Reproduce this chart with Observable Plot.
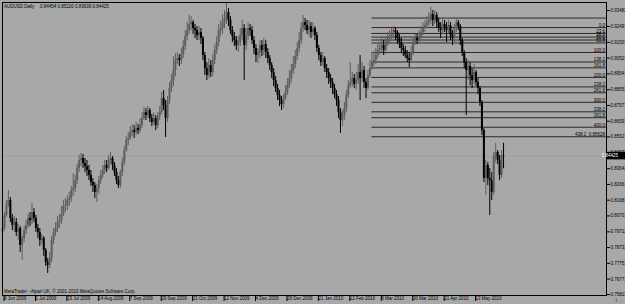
<!DOCTYPE html>
<html><head><meta charset="utf-8">
<script src="https://cdn.jsdelivr.net/npm/d3@7"></script>
<script src="https://cdn.jsdelivr.net/npm/@observablehq/plot@0.6"></script>
<style>
html,body{margin:0;padding:0;background:#a8a8a8;}
#chart{width:625px;height:304px;overflow:hidden;}
</style></head><body><div id="chart"></div>
<script>
const symbolTitle = "AUDUSD,Daily";
const lastQuote = "0.84454 0.85220 0.83639 0.84425";
const copyright = "MetaTrader - Alpari UK, © 2001-2010 MetaQuotes Software Corp.";
const bidPrice = 0.84425;
const bidLabel = "0.84425";

const open = [
0.7967,0.7992,0.8073,0.8135,0.8166,0.8054,0.8011,0.8029,0.7967,0.7992,
0.7886,0.7930,0.7979,0.8011,0.8054,0.8042,0.8091,0.8054,0.7992,0.7967,
0.7917,0.7930,0.7855,0.7780,0.7762,0.7805,0.7917,0.7967,0.7992,0.8029,
0.8042,0.8079,0.8129,0.8135,0.8166,0.8178,0.8228,0.8241,0.8290,0.8365,
0.8415,0.8427,0.8396,0.8377,0.8353,0.8322,0.8278,0.8259,0.8216,0.8241,
0.8290,0.8322,0.8353,0.8384,0.8365,0.8415,0.8427,0.8384,0.8340,0.8290,
0.8259,0.8340,0.8402,0.8477,0.8539,0.8552,0.8589,0.8601,0.8589,0.8614,
0.8601,0.8632,0.8676,0.8713,0.8695,0.8726,0.8676,0.8651,0.8676,0.8632,
0.8688,0.8713,0.8800,0.8757,0.8676,0.8788,0.8863,0.8912,0.8975,0.9037,
0.9049,0.9037,0.9074,0.9124,0.9186,0.9223,0.9261,0.9273,0.9236,0.9223,
0.9192,0.9211,0.9174,0.9068,0.8987,0.8944,0.9006,0.8962,0.9037,0.9099,
0.9149,0.9223,0.9236,0.9273,0.9298,0.9335,0.9286,0.9223,0.9186,0.9161,
0.9130,0.9149,0.9192,0.9236,0.9130,0.9192,0.9236,0.9223,0.9161,0.9111,
0.9068,0.9087,0.9130,0.9099,0.9136,0.9087,0.9049,0.9006,0.8962,0.8912,
0.8863,0.8819,0.8788,0.8763,0.8800,0.8838,0.8881,0.8925,0.8975,0.9012,
0.9062,0.9111,0.9161,0.9236,0.9273,0.9255,0.9223,0.9248,0.9211,0.9236,
0.9192,0.9111,0.9068,0.9024,0.9049,0.8987,0.8962,0.8925,0.8900,0.8863,
0.8825,0.8788,0.8713,0.8664,0.8695,0.8738,0.8819,0.8881,0.8900,0.8925,
0.8888,0.8912,0.8962,0.8925,0.8975,0.8900,0.8863,0.8944,0.8987,0.9024,
0.9037,0.9068,0.9099,0.9111,0.9130,0.9099,0.9149,0.9174,0.9186,0.9199,
0.9223,0.9211,0.9174,0.9149,0.9111,0.9099,0.9068,0.9049,0.9037,0.9087,
0.9149,0.9174,0.9161,0.9186,0.9211,0.9236,0.9255,0.9273,0.9286,0.9323,
0.9286,0.9317,0.9273,0.9236,0.9223,0.9261,0.9236,0.9223,0.9255,0.9192,
0.9174,0.9236,0.9273,0.9248,0.9161,0.9087,0.9024,0.8975,0.9000,0.8944,
0.8912,0.8962,0.8900,0.8863,0.8776,0.8601,0.8303,0.8384,0.8303,0.8290,
0.8216,0.8440,0.8465,0.8415,0.8322,0.84454];

const high = [
0.8029,0.8091,0.8166,0.8228,0.8185,0.8079,0.8066,0.8054,0.8017,0.8004,
0.7942,0.8004,0.8042,0.8079,0.8091,0.8147,0.8116,0.8073,0.8017,0.7992,
0.7955,0.7942,0.7867,0.7805,0.7843,0.7942,0.7992,0.8029,0.8066,0.8079,
0.8129,0.8166,0.8178,0.8197,0.8216,0.8253,0.8334,0.8322,0.8390,0.8446,
0.8458,0.8452,0.8427,0.8415,0.8384,0.8353,0.8303,0.8278,0.8266,0.8315,
0.8353,0.8384,0.8415,0.8415,0.8446,0.8465,0.8440,0.8402,0.8365,0.8315,
0.8353,0.8427,0.8502,0.8564,0.8589,0.8626,0.8639,0.8632,0.8651,0.8639,
0.8676,0.8713,0.8744,0.8738,0.8751,0.8738,0.8701,0.8713,0.8695,0.8713,
0.8751,0.8838,0.8850,0.8788,0.8813,0.8900,0.8950,0.9062,0.9080,0.9087,
0.9074,0.9111,0.9161,0.9223,0.9273,0.9317,0.9310,0.9286,0.9261,0.9248,
0.9248,0.9236,0.9186,0.9087,0.9024,0.9049,0.9037,0.9074,0.9130,0.9186,
0.9261,0.9286,0.9323,0.9348,0.9391,0.9360,0.9310,0.9248,0.9211,0.9186,
0.9186,0.9236,0.9286,0.9261,0.9236,0.9273,0.9261,0.9248,0.9186,0.9136,
0.9111,0.9161,0.9161,0.9174,0.9161,0.9111,0.9068,0.9024,0.8987,0.8937,
0.8888,0.8850,0.8813,0.8825,0.8881,0.8925,0.8975,0.9012,0.9062,0.9099,
0.9149,0.9211,0.9273,0.9317,0.9298,0.9286,0.9286,0.9273,0.9273,0.9248,
0.9211,0.9130,0.9087,0.9087,0.9062,0.9012,0.8987,0.8950,0.8925,0.8888,
0.8850,0.8813,0.8738,0.8726,0.8776,0.8850,0.8912,0.9024,0.8962,0.8950,
0.8962,0.9012,0.9068,0.9024,0.9000,0.8925,0.8975,0.9037,0.9087,0.9087,
0.9111,0.9136,0.9149,0.9174,0.9161,0.9186,0.9211,0.9223,0.9236,0.9248,
0.9242,0.9223,0.9199,0.9174,0.9136,0.9124,0.9099,0.9087,0.9124,0.9174,
0.9199,0.9199,0.9223,0.9248,0.9273,0.9286,0.9310,0.9335,0.9366,0.9348,
0.9348,0.9335,0.9298,0.9273,0.9298,0.9286,0.9273,0.9286,0.9273,0.9223,
0.9261,0.9298,0.9286,0.9261,0.9174,0.9099,0.9049,0.9037,0.9024,0.8987,
0.9012,0.8975,0.8925,0.8875,0.8788,0.8614,0.8415,0.8402,0.8365,0.8340,
0.8465,0.8521,0.8477,0.8446,0.8477,0.85220];

const low = [
0.7955,0.7979,0.8060,0.8122,0.8029,0.7979,0.7967,0.7942,0.7917,0.7843,
0.7793,0.7905,0.7955,0.7992,0.8004,0.8017,0.8029,0.7967,0.7930,0.7880,
0.7892,0.7818,0.7756,0.7712,0.7743,0.7780,0.7892,0.7942,0.7967,0.7992,
0.8017,0.8066,0.8091,0.8104,0.8129,0.8154,0.8191,0.8216,0.8266,0.8340,
0.8377,0.8365,0.8340,0.8315,0.8290,0.8253,0.8216,0.8178,0.8154,0.8203,
0.8266,0.8303,0.8328,0.8340,0.8353,0.8390,0.8353,0.8315,0.8266,0.8241,
0.8241,0.8315,0.8384,0.8465,0.8508,0.8539,0.8564,0.8552,0.8570,0.8577,
0.8583,0.8614,0.8664,0.8664,0.8676,0.8651,0.8626,0.8632,0.8601,0.8614,
0.8664,0.8701,0.8726,0.8558,0.8651,0.8763,0.8838,0.8875,0.8937,0.9012,
0.9000,0.9012,0.9049,0.9099,0.9161,0.9199,0.9223,0.9199,0.9174,0.9161,
0.9161,0.9136,0.9037,0.8944,0.8912,0.8925,0.8931,0.8937,0.9012,0.9074,
0.9124,0.9186,0.9199,0.9236,0.9261,0.9248,0.9199,0.9149,0.9124,0.9099,
0.9087,0.9124,0.9161,0.8912,0.9099,0.9161,0.9186,0.9136,0.9074,0.9024,
0.9018,0.9049,0.9062,0.9068,0.9049,0.9018,0.8975,0.8925,0.8875,0.8838,
0.8788,0.8751,0.8726,0.8738,0.8788,0.8819,0.8863,0.8900,0.8950,0.8987,
0.9037,0.9087,0.9136,0.9211,0.9223,0.9199,0.9186,0.9174,0.9186,0.9161,
0.9087,0.9037,0.9000,0.9000,0.8962,0.8925,0.8888,0.8863,0.8825,0.8800,
0.8751,0.8676,0.8583,0.8626,0.8664,0.8713,0.8800,0.8863,0.8875,0.8863,
0.8850,0.8888,0.8788,0.8900,0.8863,0.8800,0.8850,0.8925,0.8975,0.9000,
0.9012,0.9049,0.9074,0.9087,0.9068,0.9074,0.9124,0.9149,0.9161,0.9174,
0.9161,0.9136,0.9111,0.9080,0.9062,0.9049,0.9024,0.8993,0.9024,0.9068,
0.9130,0.9136,0.9149,0.9161,0.9192,0.9211,0.9236,0.9248,0.9261,0.9248,
0.9261,0.9236,0.9211,0.9174,0.9199,0.9211,0.9149,0.9199,0.9161,0.9130,
0.9149,0.9211,0.9223,0.9130,0.9062,0.8987,0.8695,0.8912,0.8881,0.8863,
0.8888,0.8875,0.8825,0.8751,0.8570,0.8278,0.8197,0.8259,0.8073,0.8166,
0.8197,0.8402,0.8390,0.8290,0.8303,0.83639];

const close = [
0.7992,0.8073,0.8135,0.8166,0.8054,0.8011,0.8029,0.7967,0.7992,0.7886,
0.7930,0.7979,0.8011,0.8054,0.8042,0.8091,0.8054,0.7992,0.7967,0.7917,
0.7930,0.7855,0.7780,0.7762,0.7805,0.7917,0.7967,0.7992,0.8029,0.8042,
0.8079,0.8129,0.8135,0.8166,0.8178,0.8228,0.8241,0.8290,0.8365,0.8415,
0.8427,0.8396,0.8377,0.8353,0.8322,0.8278,0.8259,0.8216,0.8241,0.8290,
0.8322,0.8353,0.8384,0.8365,0.8415,0.8427,0.8384,0.8340,0.8290,0.8259,
0.8340,0.8402,0.8477,0.8539,0.8552,0.8589,0.8601,0.8589,0.8614,0.8601,
0.8632,0.8676,0.8713,0.8695,0.8726,0.8676,0.8651,0.8676,0.8632,0.8688,
0.8713,0.8800,0.8757,0.8676,0.8788,0.8863,0.8912,0.8975,0.9037,0.9049,
0.9037,0.9074,0.9124,0.9186,0.9223,0.9261,0.9273,0.9236,0.9223,0.9192,
0.9211,0.9174,0.9068,0.8987,0.8944,0.9006,0.8962,0.9037,0.9099,0.9149,
0.9223,0.9236,0.9273,0.9298,0.9335,0.9286,0.9223,0.9186,0.9161,0.9130,
0.9149,0.9192,0.9236,0.9130,0.9192,0.9236,0.9223,0.9161,0.9111,0.9068,
0.9087,0.9130,0.9099,0.9136,0.9087,0.9049,0.9006,0.8962,0.8912,0.8863,
0.8819,0.8788,0.8763,0.8800,0.8838,0.8881,0.8925,0.8975,0.9012,0.9062,
0.9111,0.9161,0.9236,0.9273,0.9255,0.9223,0.9248,0.9211,0.9236,0.9192,
0.9111,0.9068,0.9024,0.9049,0.8987,0.8962,0.8925,0.8900,0.8863,0.8825,
0.8788,0.8713,0.8664,0.8695,0.8738,0.8819,0.8881,0.8900,0.8925,0.8888,
0.8912,0.8962,0.8925,0.8975,0.8900,0.8863,0.8944,0.8987,0.9024,0.9037,
0.9068,0.9099,0.9111,0.9130,0.9099,0.9149,0.9174,0.9186,0.9199,0.9223,
0.9211,0.9174,0.9149,0.9111,0.9099,0.9068,0.9049,0.9037,0.9087,0.9149,
0.9174,0.9161,0.9186,0.9211,0.9236,0.9255,0.9273,0.9286,0.9323,0.9286,
0.9317,0.9273,0.9236,0.9223,0.9261,0.9236,0.9223,0.9255,0.9192,0.9174,
0.9236,0.9273,0.9248,0.9161,0.9087,0.9024,0.8975,0.9000,0.8944,0.8912,
0.8962,0.8900,0.8863,0.8776,0.8601,0.8303,0.8384,0.8303,0.8290,0.8216,
0.8440,0.8465,0.8415,0.8322,0.8446,0.84425];

const dateTickBars = [0,16,32,48,64,80,96,112,128,144,160,176,192,208,224,240];
const dateTickLabels = ["9 Jun 2009","1 Jul 2009","23 Jul 2009","14 Aug 2009","7 Sep 2009","29 Sep 2009","21 Oct 2009","12 Nov 2009","4 Dec 2009","29 Dec 2009","21 Jan 2010","12 Feb 2010","8 Mar 2010","30 Mar 2010","21 Apr 2010","13 May 2010"];
const priceTickLabels = ["0.93482","0.92491","0.91501","0.90521","0.89541","0.88551","0.87571","0.86591","0.85621","0.84631","0.83642","0.82661","0.81681","0.80701","0.79711","0.78731","0.77751","0.76771","0.75811"];

const fibAnchorBars = [188, 200];
const fibAnchorPrices = [0.9087, 0.9242];
const fibLevels = [-38.2, 0, 23.6, 38.2, 50, 61.8, 100, 138.2, 161.8, 200, 238.2, 261.8, 300, 338.2, 361.8, 400, 438.2];
const fibLabels = ["", "0.0", "23.6", "38.2", "50.0", "61.8", "100.0", "138.2", "161.8", "200.0", "238.2", "261.8", "300.0", "338.2", "361.8", "400.0", "438.2  0.85628"];

const bars = close.map((c, i) => ({i, o: open[i], h: high[i], l: low[i], c}));
const p100 = fibAnchorPrices[0], p0 = fibAnchorPrices[1];
const fibRows = fibLevels.map((lv, k) => ({price: p0 + (p100 - p0) * lv / 100, label: fibLabels[k]}));
const xMax = 307.4;
const bullColor = "#5e5e5e", bearColor = "#000000";
const colorOf = d => d.c > d.o ? bullColor : bearColor;
const fontFam = "'Liberation Sans', Arial, sans-serif";

const plot = Plot.plot({
  width: 625, height: 304,
  marginTop: 2, marginLeft: 2, marginRight: 19, marginBottom: 9,
  style: {background: "#a8a8a8", fontFamily: fontFam, fontSize: "4.5px", color: "#000"},
  x: {domain: [0, xMax], axis: null},
  y: {domain: [0.7575, 0.9398], axis: null},
  marks: [
    Plot.ruleY([bidPrice], {stroke: "#8ea2b4", strokeWidth: 1}),
    Plot.ruleY(fibRows, {y: "price", x1: fibAnchorBars[0], x2: xMax, stroke: "#000", strokeWidth: 0.9, strokeOpacity: 0.85}),
    Plot.text(fibRows, {y: "price", x: xMax, text: "label", textAnchor: "end", lineAnchor: "bottom", dx: -1.5, dy: -0.6, fontSize: 4.5, fill: "#000"}),
    Plot.link([0], {x1: () => fibAnchorBars[0], y1: () => fibAnchorPrices[0], x2: () => fibAnchorBars[1], y2: () => fibAnchorPrices[1], stroke: "#e03030", strokeWidth: 1, strokeDasharray: "1,1.5"}),
    Plot.ruleX(bars, {x: "i", y1: "l", y2: "h", stroke: colorOf, strokeWidth: 1}),
    Plot.ruleX(bars, {x: "i", y1: "o", y2: "c", stroke: colorOf, strokeWidth: 2}),
    Plot.frame({stroke: "#000", strokeWidth: 1}),
    Plot.axisX({ticks: dateTickBars, tickFormat: d => dateTickLabels[dateTickBars.indexOf(d)], tickSize: 6, tickPadding: -4.5, textAnchor: "start", dx: 1.5, fontSize: 4.5, stroke: "#000"}),
    Plot.axisY({ticks: priceTickLabels.map(Number), tickFormat: d => priceTickLabels[priceTickLabels.map(Number).indexOf(d)], anchor: "right", tickSize: 3, tickPadding: 1, fontSize: 4.5, stroke: "#000"}),
    Plot.text([symbolTitle], {frameAnchor: "top-left", dx: 1.5, dy: 2.5, lineAnchor: "top", fontSize: 4.5, fill: "#000"}),
    Plot.text([lastQuote], {frameAnchor: "top-left", dx: 37.5, dy: 2.5, lineAnchor: "top", fontSize: 4.5, fill: "#000"}),
    Plot.text([copyright], {frameAnchor: "bottom-left", dx: 1.5, dy: -3, lineAnchor: "bottom", fontSize: 4.5, fill: "#000"})
  ]
});

const ys = plot.scale("y"), xs = plot.scale("x");
const yb = ys.apply(bidPrice);
const xr = xs.range[1];
const svg = d3.select(plot);
svg.append("rect").attr("x", xr + 0.5).attr("y", yb - 3.8).attr("width", 22).attr("height", 7.6).attr("fill", "#000");
svg.append("text").attr("x", xr + 4).attr("y", yb).attr("dy", "0.35em").attr("fill", "#fff").attr("font-size", 4.5).attr("font-family", fontFam).text(bidLabel);
document.getElementById("chart").appendChild(plot);
</script>
</body></html>
